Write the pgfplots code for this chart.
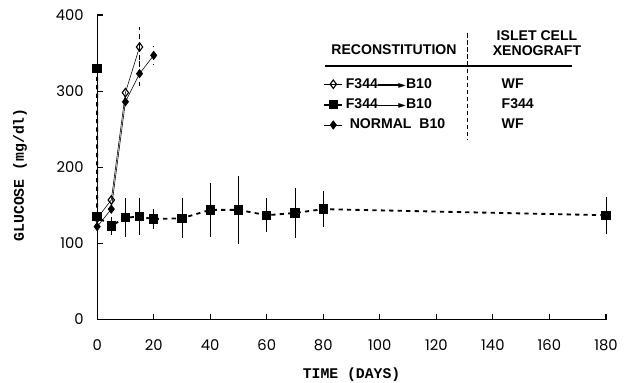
\documentclass[border=0pt]{standalone}
\usepackage{pgfplots}
\pgfplotsset{compat=1.18}
\usepackage{fontspec}
\setmainfont{Liberation Sans}
\newfontfamily\tickfont{Poppins}
\newfontfamily\labfont{Liberation Mono}
\newfontfamily\symfont{DejaVu Sans}
\newcommand{\arr}{\rule[0.33ex]{0.6cm}{0.9pt}\hspace{-2.5pt}{\symfont\scriptsize ►}}
\begin{document}
\begin{tikzpicture}
\useasboundingbox (-2.425cm,-1.575cm) rectangle (13.175cm,7.975cm);
\begin{axis}[
  scale only axis,
  width=12.7cm, height=7.6cm,
  xmin=0, xmax=180, ymin=0, ymax=400,
  axis lines=left,
  axis line style={-, thick},
  xtick={0,20,...,180}, ytick={0,100,...,400},
  tick align=inside,
  major tick length=4pt,
  tick style={black, thick},
  /pgf/number format/assume math mode=true,
  tick label style={font=\tickfont\fontsize{10.5}{12}\selectfont},
  xticklabel style={yshift=-11pt},
  yticklabel style={xshift=-6pt},
  xlabel={\labfont\bfseries\fontsize{10.5}{12}\selectfont TIME (DAYS)},
  ylabel={\labfont\bfseries\fontsize{10.5}{12}\selectfont GLUCOSE (mg/dl)},
  xlabel style={at={(axis description cs:0.5,-0.181)}, anchor=center},
  ylabel style={at={(axis description cs:-0.1516,0.475)}, anchor=center, rotate=0},
  clip=false,
  legend columns=2,
  legend image code/.code={\draw[mark repeat=2,mark phase=2,#1] plot coordinates {(0cm,0cm)(0.22cm,0cm)(0.44cm,0cm)};},
  legend style={at={(axis cs:80,321)}, anchor=north west, draw=none, fill=none,
    font=\bfseries\fontsize{10}{12}\selectfont, row sep=2pt,
    cells={anchor=west}, inner sep=0pt, column sep=0pt},
]
% squares: F344 -> B10, F344 xenograft
\addplot+[forget plot, black, dashed, line width=1.3pt, mark=square*, mark size=2.7pt,
  mark options={solid, fill=black},
  error bars/.cd, y dir=both, y explicit, error bar style={solid, thin, black}, error mark=none]
  coordinates {
  (0,330) +- (0,0)
  (0,135) +- (0,22)
  (5,123) +- (0,12)
  (10,134) +- (0,25)
  (15,135) +- (0,24)
  (20,132) +- (0,13)
  (30,133) +- (0,26)
  (40,144) +- (0,35)
  (50,144) +- (0,45)
  (60,137) +- (0,22)
  (70,140) +- (0,33)
  (80,145) +- (0,24)
  (180,137) +- (0,24)
  };
% open diamonds: F344 -> B10, WF
\addplot+[forget plot, black, solid, thin, mark=diamond, mark size=3pt, mark options={fill=white, thick},
  error bars/.cd, y dir=both, y explicit, error bar style={solid, thin, black, dashed}, error mark=none]
  coordinates {
  (0,133) +- (0,0)
  (5,157) +- (0,0)
  (10,298) +- (0,0)
  (15,358) +- (0,26)
  };
% filled diamonds: normal B10, WF
\addplot+[forget plot, black, solid, thin, mark=diamond*, mark size=3pt, mark options={fill=black},
  error bars/.cd, y dir=both, y explicit, error bar style={solid, thin, black, dashed}, error mark=none]
  coordinates {
  (0,122) +- (0,0)
  (5,145) +- (0,0)
  (10,286) +- (0,0)
  (15,323) +- (0,18)
  (20,347) +- (0,12)
  };
\addlegendimage{black, thin, mark=diamond, mark options={fill=white, thick}, mark size=3pt}
\addlegendentry{\makebox[3.75cm][l]{F344\arr B10}}
\addlegendimage{empty legend}
\addlegendentry{WF}
\addlegendimage{black, line width=1.3pt, mark=square*, mark size=2.7pt}
\addlegendentry{\makebox[3.75cm][l]{F344\arr B10}}
\addlegendimage{empty legend}
\addlegendentry{F344}
\addlegendimage{black, thin, mark=diamond*, mark size=3pt}
\addlegendentry{\makebox[3.75cm][l]{\ NORMAL\ \ B10}}
\addlegendimage{empty legend}
\addlegendentry{WF}
% header
\node[font=\bfseries\fontsize{10}{12}\selectfont] at (axis cs:105,354) {RECONSTITUTION};
\node[font=\bfseries\fontsize{10}{12}\selectfont, align=center] at (axis cs:155.6,363) {ISLET CELL\\[-1pt]XENOGRAFT};
\draw[line width=1.2pt] (axis cs:80.6,333) -- (axis cs:168,333);
\draw[densely dashed, thin] (axis cs:130.8,376) -- (axis cs:130.8,236);
\end{axis}
\end{tikzpicture}
\end{document}
